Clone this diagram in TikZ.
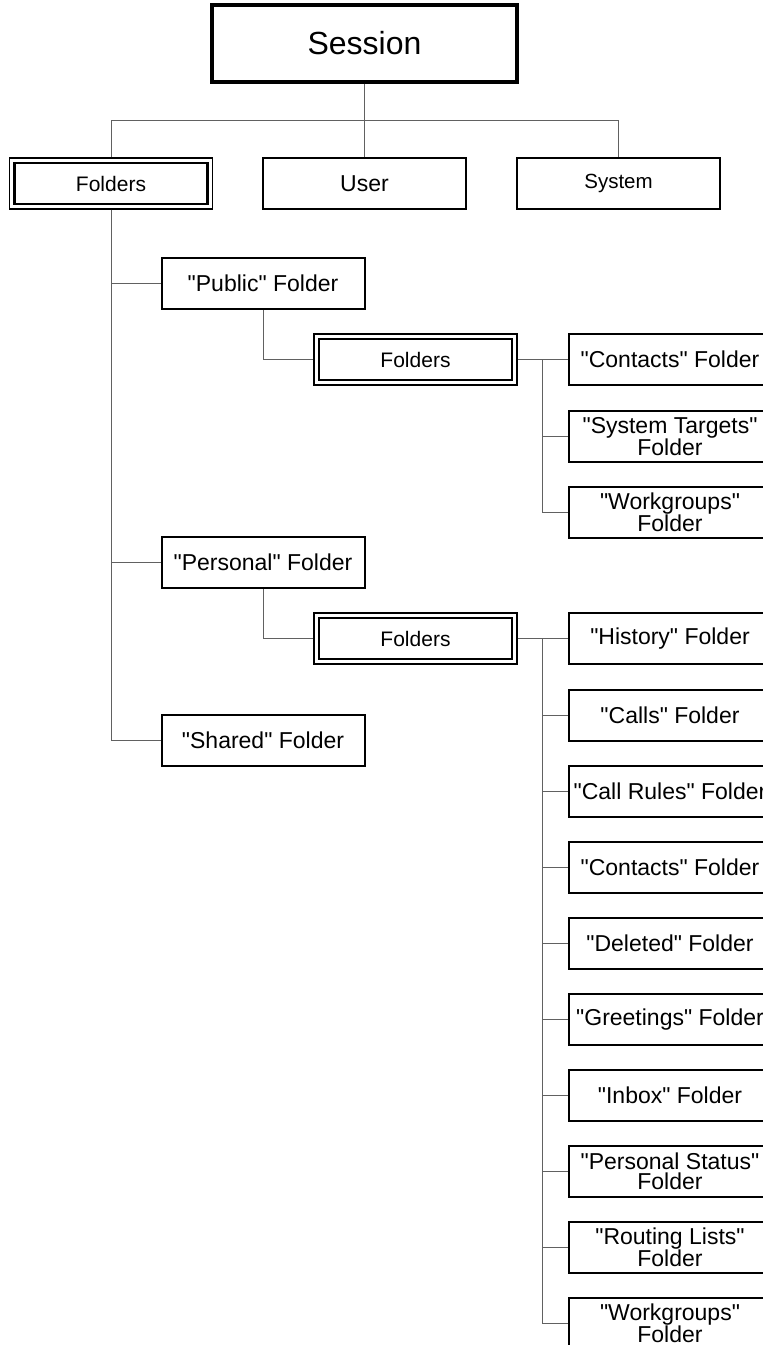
\documentclass[tikz,border=0pt]{standalone}
\usepackage{fontspec}
\setmainfont{Liberation Sans}[Ligatures=TeXOff]
\begin{document}
\begin{tikzpicture}[x=1pt,y=-1pt,
  box/.style={draw=black, line width=2pt, minimum width=203pt, minimum height=51pt,
    inner sep=0pt, align=center, font=\fontsize{23}{20.5}\selectfont},
  dbox/.style={box, line width=1.2pt, font=\fontsize{21}{20}\selectfont},
  inner/.style={draw=black, line width=2.6pt},
  link/.style={draw=black!62, line width=1pt}]
\useasboundingbox (0,0) rectangle (763,1345);

% top level
\node[box, line width=3.2pt, minimum width=305pt, minimum height=77pt,
      font=\fontsize{32}{32}\selectfont] (session) at (364.5,43.5) {Session};
\node[dbox] (folders) at (111,183.5) {Folders};
\node[box, font=\fontsize{23}{20}\selectfont] (user) at (364.5,183.5) {User};
\node[box, font=\fontsize{20.5}{20}\selectfont] (system) at (618.5,183.5) {System};

% second level
\node[box] (public) at (263,283.5) {"Public" Folder};
\node[box] (personal) at (263,562.5) {"Personal" Folder};
\node[box] (shared) at (263,740) {"Shared" Folder};

\node[dbox] (pubfolders) at (415.5,359.5) {Folders};
\node[dbox] (perfolders) at (415.5,638.5) {Folders};

% public folders
\node[box] (pcontacts) at (670,359.5) {"Contacts" Folder};
\node[box] (ptargets) at (670,436.5) {"System Targets"\\Folder};
\node[box] (pworkgroups) at (670,512.5) {"Workgroups"\\Folder};

% personal folders
\node[box] (history) at (670,638.5) {"History" Folder};
\node[box] (calls) at (670,715.5) {"Calls" Folder};
\node[box] (callrules) at (670,791.5) {"Call Rules" Folder};
\node[box] (contacts) at (670,867.5) {"Contacts" Folder};
\node[box] (deleted) at (670,943.5) {"Deleted" Folder};
\node[box] (greetings) at (670,1019.5) {"Greetings" Folder};
\node[box] (inbox) at (670,1095.5) {"Inbox" Folder};
\node[box] (status) at (670,1171.5) {"Personal Status"\\Folder};
\node[box] (routing) at (670,1247.5) {"Routing Lists"\\Folder};
\node[box] (workgroups) at (670,1323.5) {"Workgroups"\\Folder};

% inner frames of the container boxes
\foreach \n in {folders,pubfolders,perfolders}
  \draw[inner] ([shift={(5.5pt,-5.5pt)}]\n.north west) rectangle ([shift={(-5.5pt,5.5pt)}]\n.south east);

% connectors
\coordinate (bus) at (364.5,120);
\draw[link] (session.south) -- (user.north);
\draw[link] (folders.north) -- (folders.north |- bus) -- (system.north |- bus) -- (system.north);

\draw[link] (folders.south) |- (shared.west);
\draw[link] (folders.south |- public.west) -- (public.west);
\draw[link] (folders.south |- personal.west) -- (personal.west);

\draw[link] (public.south) |- (pubfolders.west);
\draw[link] (personal.south) |- (perfolders.west);

\coordinate (ta) at (542,359.5);
\draw[link] (pubfolders.east) -- (pcontacts.west);
\draw[link] (ta) |- (pworkgroups.west);
\draw[link] (ta |- ptargets.west) -- (ptargets.west);

\coordinate (tb) at (542,638.5);
\draw[link] (perfolders.east) -- (history.west);
\draw[link] (tb) |- (workgroups.west);
\foreach \n in {calls,callrules,contacts,deleted,greetings,inbox,status,routing}
  \draw[link] (tb |- \n.west) -- (\n.west);
\end{tikzpicture}
\end{document}
